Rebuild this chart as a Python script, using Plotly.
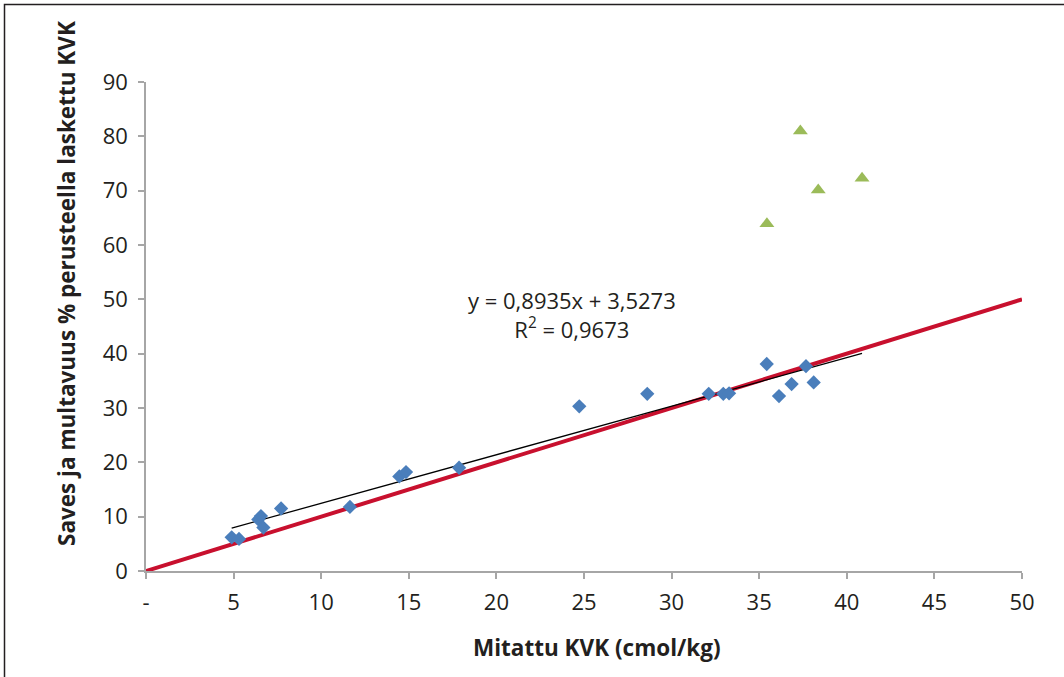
import plotly.graph_objects as go

# Measured CEC (x) vs CEC calculated from clay and organic matter content (y)
measured_main = [4.89, 5.31, 6.41, 6.56, 6.70, 7.71, 11.64, 14.46, 14.84, 17.87,
                 24.73, 28.61, 32.12, 32.95, 33.28, 35.43, 36.13, 36.85, 37.67, 38.11]
calculated_main = [6.2, 5.9, 9.5, 10.1, 8.0, 11.5, 11.8, 17.4, 18.2, 19.0,
                   30.3, 32.6, 32.6, 32.6, 32.7, 38.1, 32.2, 34.4, 37.7, 34.7]

measured_outlier = [35.44, 37.35, 38.37, 40.87]
calculated_outlier = [63.9, 81.0, 70.1, 72.3]

# Linear trend y = a*x + b
slope = 0.8935
intercept = 3.5273
r_squared = 0.9673

# 1:1 reference line
ref_x = [0, 50]
ref_y = [0, 50]

x_ticks = [0, 5, 10, 15, 20, 25, 30, 35, 40, 45, 50]
x_tick_labels = ["-", "5", "10", "15", "20", "25", "30", "35", "40", "45", "50"]
y_ticks = [0, 10, 20, 30, 40, 50, 60, 70, 80, 90]

FONT = "Open Sans"
TXT = "#231f20"

all_x = measured_main + measured_outlier
trend_x = [min(all_x), max(all_x)]
trend_y = [slope * v + intercept for v in trend_x]

fig = go.Figure()

fig.add_trace(go.Scatter(
    x=ref_x, y=ref_y, mode="lines",
    line=dict(color="#c8102e", width=4), hoverinfo="skip"))

fig.add_trace(go.Scatter(
    x=trend_x, y=trend_y, mode="lines",
    line=dict(color="#000000", width=1.3), hoverinfo="skip"))

fig.add_trace(go.Scatter(
    x=measured_main, y=calculated_main, mode="markers",
    marker=dict(symbol="diamond", size=11, color="#4a7ebb")))

fig.add_trace(go.Scatter(
    x=measured_outlier, y=calculated_outlier, mode="markers",
    marker=dict(symbol="triangle-up", size=13, color="#9bbb59")))

axis_common = dict(
    showgrid=False, zeroline=False, showline=True,
    linecolor="#a6a6a6", linewidth=1.5,
    ticks="outside", ticklen=6, tickcolor="#a6a6a6", tickwidth=1.5,
    tickfont=dict(family=FONT, size=22, color=TXT),
)

fig.update_xaxes(range=[0, 50], tickvals=x_ticks, ticktext=x_tick_labels,
                 ticklabelstandoff=5, **axis_common)
fig.update_yaxes(range=[0, 90], tickvals=y_ticks, ticklabelstandoff=6,
                 **axis_common)

fig.add_annotation(
    x=24.34, y=47.2, xref="x", yref="y", showarrow=False,
    text=f"y = {slope:.4f}x + {intercept:.4f}".replace(".", ",")
         + "<br>R<sup>2</sup> = " + f"{r_squared:.4f}".replace(".", ","),
    font=dict(family=FONT, size=22, color=TXT), align="center")

fig.add_annotation(
    x=597, y=647, xref="paper", yref="paper", showarrow=False,
    xanchor="center", yanchor="middle",
    text="<b>Mitattu KVK (cmol/kg)</b>",
    font=dict(family=FONT, size=22.5, color=TXT))

fig.add_annotation(
    x=66, y=284, showarrow=False, textangle=-90,
    xanchor="center", yanchor="middle",
    text="<b>Saves ja multavuus % perusteella laskettu KVK</b>",
    font=dict(family=FONT, size=22.5, color=TXT))

W, H = 1064, 677
ml, mr, mt, mb = 146, 42, 82, 106
pw, ph = W - ml - mr, H - mt - mb

# convert pixel positions of the title annotations to paper coordinates
for ann in fig.layout.annotations[1:]:
    px, py = ann.x, ann.y
    ann.xref, ann.yref = "paper", "paper"
    ann.x = (px - ml) / pw
    ann.y = 1 - (py - mt) / ph

# outer frame (top and left edges visible)
fig.add_shape(type="rect", xref="paper", yref="paper",
              x0=(4.5 - ml) / pw, x1=(W + 20 - ml) / pw,
              y0=1 - (H + 20 - mt) / ph, y1=1 - (4.5 - mt) / ph,
              line=dict(color="#231f20", width=1.5), layer="below")

fig.update_layout(
    width=W, height=H, showlegend=False,
    margin=dict(l=ml, r=mr, t=mt, b=mb),
    paper_bgcolor="white", plot_bgcolor="white",
)

fig.write_html("out.html")
